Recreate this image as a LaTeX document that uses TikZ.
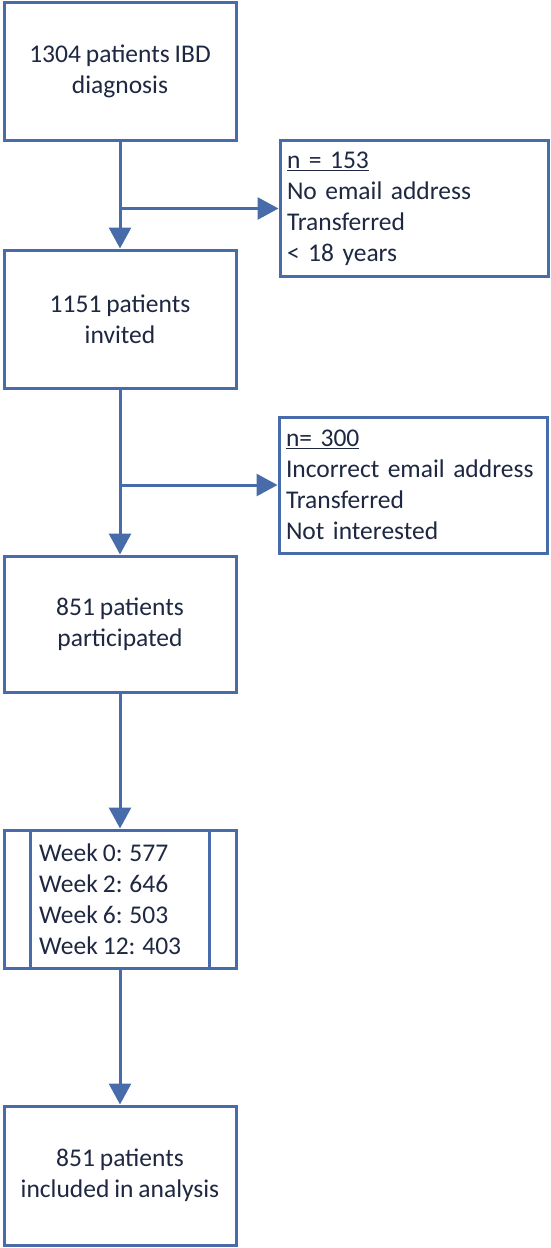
\documentclass[tikz,border=0pt]{standalone}
\usepackage{fontspec}
\setmainfont{Carlito}[WordSpace=0.85]
\usetikzlibrary{arrows.meta}
\definecolor{lineblue}{RGB}{72,108,170}
\definecolor{txt}{RGB}{30,40,66}
\begin{document}
\begin{tikzpicture}[x=1pt,y=-1pt,
  box/.style={draw=lineblue, line width=3pt, fill=white, text=txt, align=center,
    font=\fontsize{25.5}{31}\selectfont, inner sep=4pt},
  sidebox/.style={draw=lineblue, line width=3pt, fill=white, text=txt, align=left,
    font=\fontsize{25.5}{31}\selectfont, minimum width=268pt, minimum height=136pt,
    text width=254pt, inner sep=7pt},
  conn/.style={draw=lineblue, line width=3pt},
  arr/.style={conn, -{Triangle[length=21pt,width=22pt]}}]
\useasboundingbox (0,0) rectangle (550,1248);
\node[box, minimum width=232pt, minimum height=138pt] (b1) at (120,71) {1304 patients IBD\\diagnosis};
\node[box, minimum width=232pt, minimum height=138pt] (b2) at (120,319) {1151 patients\\invited};
\node[box, minimum width=232pt, minimum height=136pt] (b3) at (120,624) {851 patients\\participated};
\node[box, minimum width=232pt, minimum height=138pt] (b4) at (120,899) {};
\node[box, minimum width=232pt, minimum height=139pt] (b5) at (120,1175.5) {851 patients\\included in analysis};
\node[sidebox] (s1) at (414,208.5) {\underline{n = 153}\\No email address\\Transferred\\< 18 years};
\node[sidebox] (s2) at (413,485) {\underline{n= 300}\\Incorrect email address\\Transferred\\Not interested};
\draw[conn] ([xshift=28pt]b4.north west) -- ([xshift=28pt]b4.south west);
\draw[conn] ([xshift=-28pt]b4.north east) -- ([xshift=-28pt]b4.south east);
\node[text=txt, align=left, anchor=west, font=\fontsize{25.5}{31}\selectfont, inner sep=0pt] (b4t) at (39,899) {Week 0: 577\\Week 2: 646\\Week 6: 503\\Week 12: 403};
\coordinate (j1) at (b1.south |- s1.west);
\coordinate (j2) at (b2.south |- s2.west);
\draw[arr] (b1.south) -- (b2.north);
\draw[arr] (j1) -- (s1.west);
\draw[arr] (b2.south) -- (b3.north);
\draw[arr] (j2) -- (s2.west);
\draw[arr] (b3.south) -- (b4.north);
\draw[arr] (b4.south) -- (b5.north);
\end{tikzpicture}
\end{document}
